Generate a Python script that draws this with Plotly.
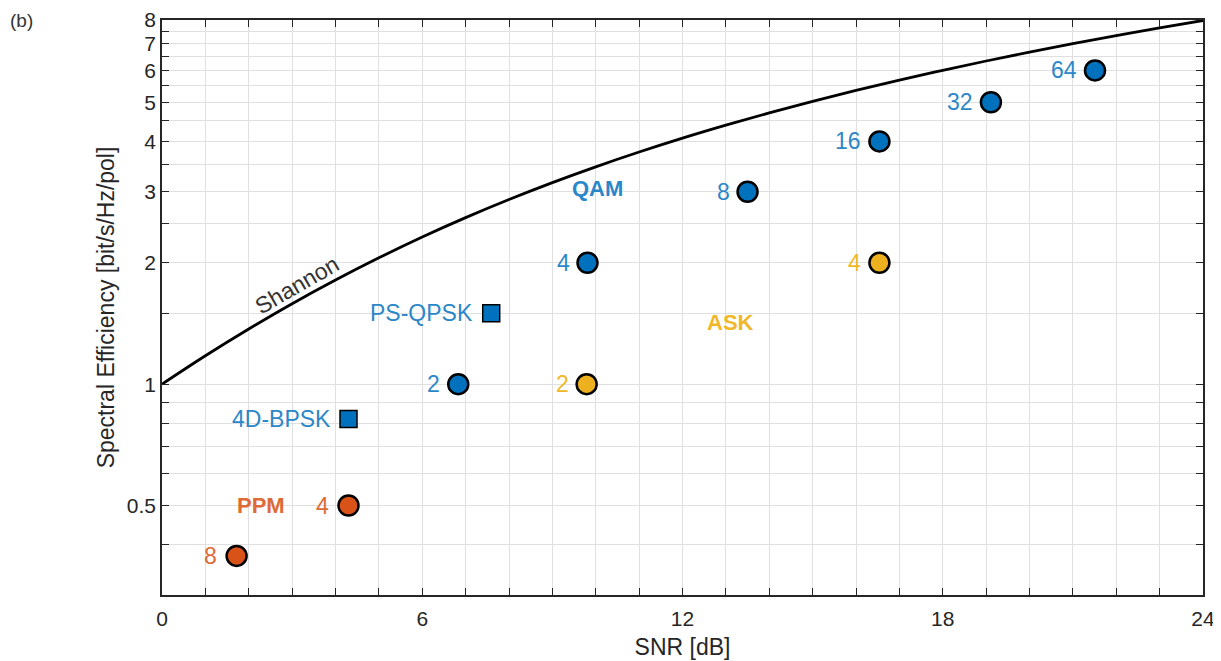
import math
import plotly.graph_objects as go

# ---- data ----
shannon_snr = list(range(0, 25))
shannon_se = [1.0, 1.176, 1.370, 1.583, 1.812, 2.057, 2.317, 2.588, 2.870, 3.161,
              3.459, 3.764, 4.075, 4.389, 4.707, 5.028, 5.351, 5.676, 6.002, 6.330,
              6.658, 6.988, 7.317, 7.647, 7.978]

qam_labels = ["2", "4", "8", "16", "32", "64"]
qam_snr = [6.83, 9.81, 13.50, 16.54, 19.11, 21.51]
qam_se = [1, 2, 3, 4, 5, 6]

ask_labels = ["2", "4"]
ask_snr = [9.79, 16.54]
ask_se = [1, 2]

ppm_labels = ["4", "8"]
ppm_snr = [4.30, 1.72]
ppm_se = [0.5, 0.375]

sq_labels = ["4D-BPSK", "PS-QPSK"]
sq_snr = [4.30, 7.59]
sq_se = [0.82, 1.5]

group_labels = ["QAM", "ASK", "PPM"]
group_x = [10.03, 13.1, 2.28]
group_y = [3.05, 1.42, 0.50]

x_tickvals = list(range(0, 25))
x_ticktext = [str(v) if v % 6 == 0 else "" for v in x_tickvals]
y_tickvals = [0.3, 0.4, 0.5, 0.6, 0.7, 0.8, 0.9, 1, 1.5, 2, 2.5, 3, 3.5, 4, 4.5,
              5, 5.5, 6, 6.5, 7, 7.5, 8]
y_labeled = [0.5, 1, 2, 3, 4, 5, 6, 7, 8]
y_ticktext = [("%g" % v) if v in y_labeled else "" for v in y_tickvals]

BLUE = "#0072BD"
ORANGE = "#D95319"
YELLOW = "#EDB120"
BLUE_T = "#2C87C9"
ORANGE_T = "#DE6A36"
YELLOW_T = "#F0B828"
FONT = "Liberation Sans, Arial, Helvetica, sans-serif"
AX = "#262626"

fig = go.Figure()
fig.add_trace(go.Scatter(x=shannon_snr, y=shannon_se, mode="lines",
                         line=dict(color="black", width=2.8, shape="spline"),
                         hoverinfo="skip", showlegend=False))

def circles(xs, ys, col):
    fig.add_trace(go.Scatter(x=xs, y=ys, mode="markers", showlegend=False,
                             marker=dict(symbol="circle", size=20, color=col,
                                         line=dict(color="black", width=2.5))))

circles(qam_snr, qam_se, BLUE)
circles(ask_snr, ask_se, YELLOW)
circles(ppm_snr, ppm_se, ORANGE)
fig.add_trace(go.Scatter(x=sq_snr, y=sq_se, mode="markers", showlegend=False,
                         marker=dict(symbol="square", size=17, color=BLUE,
                                     line=dict(color="black", width=1.5))))

ann = []
def labels(xs, ys, texts, col, shift=-16):
    for x, y, t in zip(xs, ys, texts):
        ann.append(dict(x=x, y=math.log10(y), text=t, showarrow=False,
                        xanchor="right", yanchor="middle", xshift=shift,
                        font=dict(family=FONT, size=23, color=col)))

labels(qam_snr, qam_se, qam_labels, BLUE_T)
labels(ask_snr, ask_se, ask_labels, YELLOW_T)
labels(ppm_snr, ppm_se, ppm_labels, ORANGE_T, shift=-18)
labels(sq_snr, sq_se, sq_labels, BLUE_T)

for t, x, y, c in zip(group_labels, group_x, group_y, [BLUE_T, YELLOW_T, ORANGE_T]):
    ann.append(dict(x=x, y=math.log10(y), text="<b>%s</b>" % t, showarrow=False,
                    xanchor="center", yanchor="middle",
                    font=dict(family=FONT, size=22, color=c)))

ann.append(dict(x=3.11, y=math.log10(1.76), text="Shannon", showarrow=False,
                textangle=-30, font=dict(family=FONT, size=23, color="#333333")))
ann.append(dict(x=-0.148, y=1.0, xref="paper", yref="paper", text="(b)",
                showarrow=False, xanchor="left", yanchor="middle",
                font=dict(family=FONT, size=19, color="#333333")))

fig.update_layout(
    width=1221, height=661,
    margin=dict(l=154, r=26, t=12, b=74, autoexpand=False),
    paper_bgcolor="white", plot_bgcolor="white",
    font=dict(family=FONT, size=21, color=AX),
    annotations=ann,
    xaxis=dict(range=[0, 24], tickvals=x_tickvals, ticktext=x_ticktext,
               automargin=False,
               ticks="inside", ticklen=7, tickcolor=AX, tickwidth=1.3,
               showline=True, linecolor=AX, linewidth=1.5, mirror="ticks",
               showgrid=True, gridcolor="#e0e0e0", gridwidth=1, zeroline=False,
               ticklabelstandoff=4, tickfont=dict(size=21),
               title=dict(text="SNR [dB]", standoff=10, font=dict(size=23))),
    yaxis=dict(type="log", range=[math.log10(0.3), math.log10(8)],
               tickvals=y_tickvals, ticktext=y_ticktext,
               automargin=False,
               ticks="inside", ticklen=7, tickcolor=AX, tickwidth=1.3,
               showline=True, linecolor=AX, linewidth=1.5, mirror="ticks",
               showgrid=True, gridcolor="#e0e0e0", gridwidth=1, zeroline=False,
               ticklabelstandoff=0, tickfont=dict(size=21),
               title=dict(text="Spectral Efficiency [bit/s/Hz/pol]", standoff=6,
                          font=dict(size=23))),
)

fig.write_html("out.html")
